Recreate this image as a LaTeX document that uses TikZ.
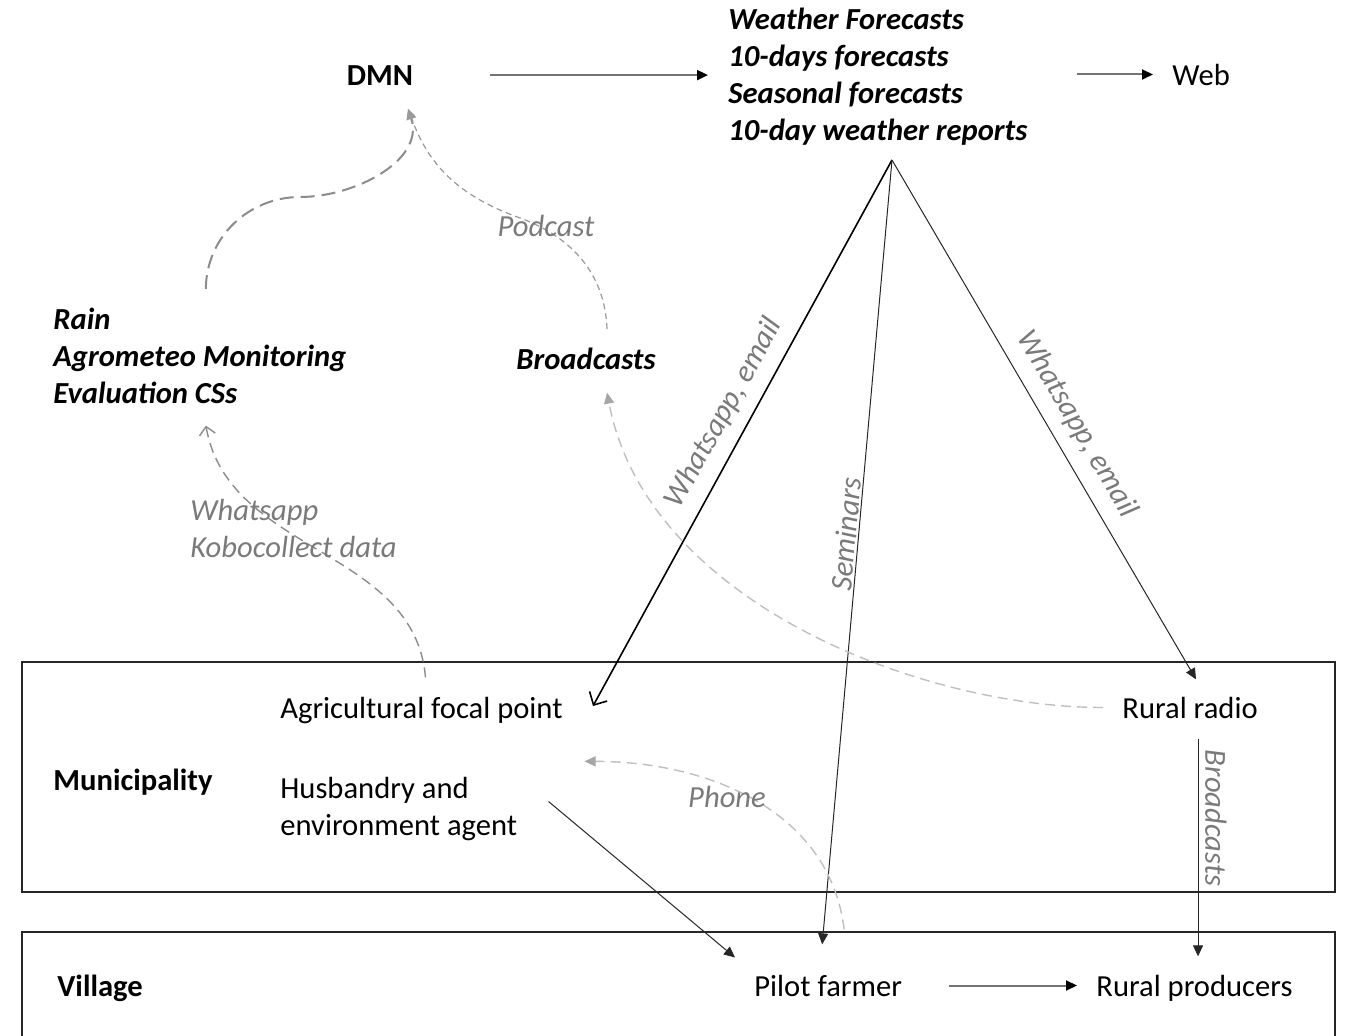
\documentclass[tikz,border=0pt]{standalone}
\usepackage{fontspec}
\setmainfont{Carlito}
\usetikzlibrary{positioning, calc, arrows.meta}

\tikzset{
  txt/.style={inner sep=0pt, font=\fontsize{15.3}{18.5}\selectfont},
  hdr/.style={txt, font=\fontsize{15.3}{18.5}\selectfont\bfseries},
  outbox/.style={txt, align=left, font=\fontsize{15.3}{18.5}\selectfont\bfseries\itshape},
  via/.style={txt, text=black!52, font=\fontsize{15.3}{18.5}\selectfont\itshape},
  frame/.style={draw=black!85, line width=1.3pt},
  feed/.style={draw=black!55, line width=1pt, -{Triangle[length=5.5pt,width=5pt,black]}},
  link/.style={draw=black!85, line width=0.5pt, -{Triangle[length=5.5pt,width=5pt]}},
  dlong/.style={draw=black!45, line width=1pt, dash pattern=on 7pt off 3.5pt, -{Triangle[length=5.5pt,width=5pt,color=black!40]}},
  dshort/.style={draw=black!40, line width=0.6pt, dash pattern=on 3pt off 2pt},
  dmid/.style={draw=black!45, line width=0.7pt, dash pattern=on 5pt off 3pt, -{Straight Barb[length=4pt,width=8pt]}},
  dlight/.style={draw=black!25, line width=0.7pt, dash pattern=on 5pt off 3pt, -{Triangle[length=5.5pt,width=5pt,color=black!35]}}
}

\begin{document}
\begin{tikzpicture}[x=0.5pt, y=-0.5pt]
    \useasboundingbox (0,0) rectangle (1345,1035);

    % levels
    \draw[frame] (22,662) rectangle (1335,892);
    \draw[frame] (22,1036) -- (22,932) -- (1335,932) -- (1335,1036);

    % actors and products (multi-line nodes sit on their last line)
    \node[hdr, anchor=base] (dmn) at (380,85) {DMN};
    \node[outbox, anchor=base west] (fcst) at (728,140) {Weather Forecasts\\10-days forecasts\\Seasonal forecasts\\10-day weather reports};
    \node[txt, anchor=base west] (web) at (1172,85) {Web};
    \node[outbox, anchor=base west] (rain) at (53,403) {Rain\\Agrometeo Monitoring\\Evaluation CSs};
    \node[outbox, anchor=base west] (bcast) at (516,369) {Broadcasts};
    \node[hdr, anchor=base west] (muni) at (53,790) {Municipality};
    \node[txt, anchor=base west] (afp) at (280,718) {Agricultural focal point};
    \node[txt, align=left, anchor=base west] (husb) at (280,835) {Husbandry and\\environment agent};
    \node[txt, anchor=base west] (radio) at (1122,718) {Rural radio};
    \node[hdr, anchor=base west] (vill) at (57,996) {Village};
    \node[txt, anchor=base west] (pilot) at (754,996) {Pilot farmer};
    \node[txt, anchor=base west] (prod) at (1096,996) {Rural producers};

    \coordinate (apex) at (892,160);

    % solid flows
    \draw[feed, shorten <=38.5pt, shorten >=10pt] (dmn.east) -- (dmn.east -| fcst.west);
    \draw[feed, shorten <=24.5pt, shorten >=9.5pt] (fcst.east |- web.west) -- (web.west);
    \draw[feed, shorten <=23.5pt, shorten >=9.5pt] (pilot.east) -- (pilot.east -| prod.west);
    \draw[draw=black, line width=0.8pt, -{Straight Barb[length=5pt,width=10pt]}] (apex) -- ([xshift=15pt,yshift=2pt]afp.east);
    \draw[link] (apex) -- ([xshift=-3pt,yshift=15pt]pilot.north);
    \draw[link] (apex) -- ([xshift=3pt,yshift=8.5pt]radio.north);
    \draw[link] ([xshift=15.5pt,yshift=3.5pt]husb.east) -- ([xshift=-9.5pt,yshift=14pt]pilot.west);
    \draw[link, shorten <=10pt, shorten >=9pt] ([xshift=4pt]radio.south) -- ([xshift=4pt]radio.south |- prod.north);

    % dashed flows
    \draw[dlong] ([xshift=3pt,yshift=9pt]rain.north) to[out=90,in=180] (300,197) to[out=0,in=-72] ([xshift=14pt,yshift=-11.5pt]dmn.south);
    \draw[dshort] ([xshift=10.5pt,yshift=9pt]bcast.north) to[out=92,in=-20] (520,218) to[out=160,in=-72] ([xshift=15pt,yshift=-14pt]dmn.south);
    \draw[dmid] ([xshift=2pt,yshift=9.5pt]afp.north) to[out=95,in=-80] ([xshift=3pt,yshift=-11pt]rain.south);
    \draw[dlight, shorten <=9.5pt] (radio.west) .. controls +(-200,0) and +(40,210) .. ([xshift=10.5pt,yshift=-11.5pt]bcast.south);
    \draw[dlight] ([xshift=8pt,yshift=22.5pt]pilot.north) to[out=97,in=0] ([xshift=33.5pt,yshift=7.5pt]husb.north east);

    % channel labels
    \node[via] (podcast) at (546,226) {Podcast};
    \node[via, align=left, anchor=base west] (kobo) at (190,557) {Whatsapp\\Kobocollect data};
    \node[via] (phone) at (727,797) {Phone};
    \node[via, rotate=61] (wal) at (724,413) {Whatsapp, email};
    \node[via, rotate=85] (sem) at (846,534) {Seminars};
    \node[via, rotate=-59.5] (war) at (1077,424) {Whatsapp, email};
    \node[via, rotate=-90] (bcl) at (1216,818) {Broadcasts};
\end{tikzpicture}
\end{document}
